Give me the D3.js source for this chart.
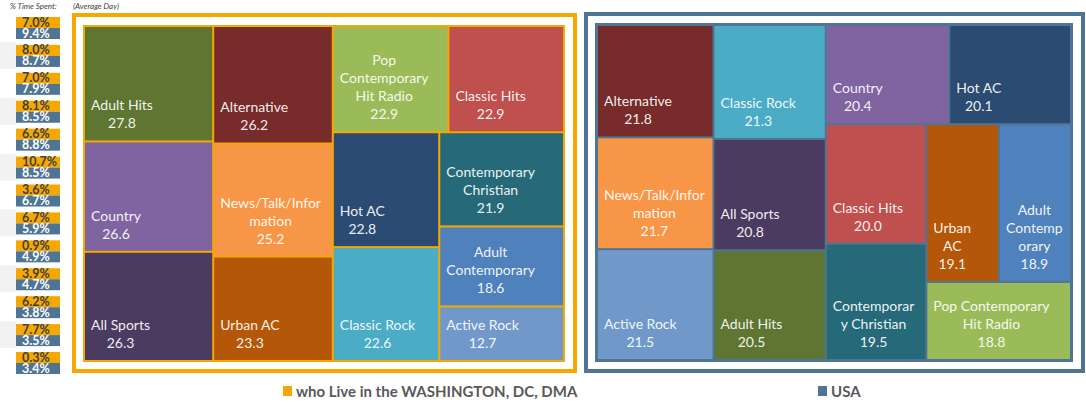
<!DOCTYPE html>
<html>
<head>
  <meta charset="utf-8">
  <title>Format time spent treemaps</title>
  <script src="https://d3js.org/d3.v7.min.js"></script>
  <style>
    body { margin: 0; background: #fff; }
  </style>
</head>
<body>
<div id="chart"></div>
<script type="text/javascript">
  // radio formats, with the same colour in both treemaps
  const formats = ['Adult Hits', 'Alternative', 'Pop Contemporary Hit Radio', 'Classic Hits',
    'Country', 'News/Talk/Information', 'Hot AC', 'Contemporary Christian', 'All Sports',
    'Urban AC', 'Classic Rock', 'Adult Contemporary', 'Active Rock'];
  const formatColors = ['#5f7532', '#772b2a', '#9bbb59', '#c0504d', '#8064a2', '#f79646',
    '#2c4b72', '#266a79', '#4b3b61', '#b55709', '#4bacc6', '#4f81bd', '#7099ca'];

  // values shown in each tile
  const dcValues  = [27.8, 26.2, 22.9, 22.9, 26.6, 25.2, 22.8, 21.9, 26.3, 23.3, 22.6, 18.6, 12.7];
  const usaValues = [20.5, 21.8, 18.8, 20.0, 20.4, 21.7, 20.1, 19.5, 20.8, 19.1, 21.3, 18.9, 21.5];

  // % time spent badges down the left side
  const dcShare  = [7.0, 8.0, 7.0, 8.1, 6.6, 10.7, 3.6, 6.7, 0.9, 3.9, 6.2, 7.7, 0.3];
  const usaShare = [9.4, 8.7, 7.9, 8.5, 8.8, 8.5, 6.7, 5.9, 4.9, 4.7, 3.8, 3.5, 3.4];

  const legendLabels = ['who Live in the WASHINGTON, DC, DMA', 'USA'];

  const orange = '#f7a800';
  const steel = '#4f7594';
  const W = 1086, H = 406;

  const svg = d3.select('#chart').append('svg')
      .attr('width', W)
      .attr('height', H)
      .style('font-family', 'Lato, sans-serif');

  // badges column
  const badgeY = d3.scaleLinear().domain([0, dcShare.length - 1]).range([17, 352]);

  svg.append('g').selectAll('rect')
     .data(dcShare.map((d, i) => i).filter(i => i % 2 === 1))
     .join('rect')
     .attr('x', 0).attr('y', i => badgeY(i) - 3)
     .attr('width', 16).attr('height', 27)
     .attr('fill', '#f2f2f2');

  const badges = svg.append('g').selectAll('g')
     .data(dcShare.map((d, i) => ({dc: d, usa: usaShare[i], i})))
     .join('g')
     .attr('transform', d => `translate(16,${badgeY(d.i)})`);

  badges.append('rect').attr('width', 44).attr('height', 11).attr('fill', orange);
  badges.append('rect').attr('y', 11).attr('width', 44).attr('height', 11).attr('fill', steel);
  badges.append('text')
     .attr('x', 6).attr('y', 9.5)
     .attr('font-size', '12.5px').attr('font-weight', 'bold')
     .attr('fill', '#3f3f3f')
     .text(d => d.dc.toFixed(1) + '%');
  badges.append('text')
     .attr('x', 6).attr('y', 20.5)
     .attr('font-size', '12.5px').attr('font-weight', 'bold')
     .attr('fill', '#fff')
     .text(d => d.usa.toFixed(1) + '%');

  svg.append('text')
     .attr('x', 10).attr('y', 9)
     .attr('font-size', '8px').attr('font-style', 'italic')
     .attr('fill', '#404040')
     .text('% Time Spent:');
  svg.append('text')
     .attr('x', 73).attr('y', 9)
     .attr('font-size', '8px').attr('font-style', 'italic')
     .attr('fill', '#404040')
     .text('(Average Day)');

  // measuring helper for wrapping labels
  const measure = svg.append('text')
     .attr('font-size', '14px')
     .attr('visibility', 'hidden');
  function textWidth(s) {
    measure.text(s);
    return measure.node().getComputedTextLength();
  }

  function wrap(name, maxW) {
    let lines = [];
    let cur = '';
    name.split(' ').forEach(word => {
      let test = cur ? cur + ' ' + word : word;
      if (textWidth(test) <= maxW) { cur = test; return; }
      if (textWidth(word) <= maxW) { lines.push(cur); cur = word; return; }
      if (cur) lines.push(cur);
      // word too long: break it by characters
      let piece = '';
      for (const ch of word) {
        if (piece && textWidth(piece + ch) > maxW) { lines.push(piece); piece = ''; }
        piece += ch;
      }
      cur = piece;
    });
    if (cur) lines.push(cur);
    return lines;
  }

  function drawTreemap(frame, inner, pad, values, color) {
    svg.append('rect')
       .attr('x', frame.x).attr('y', frame.y)
       .attr('width', frame.w).attr('height', frame.h)
       .attr('fill', 'none')
       .attr('stroke', color)
       .attr('stroke-width', 4);

    const g = svg.append('g').attr('transform', `translate(${inner.x},${inner.y})`);
    g.append('rect')
     .attr('width', inner.w).attr('height', inner.h)
     .attr('fill', color);

    const root = d3.hierarchy({children: formats.map((f, i) => ({name: f, value: values[i], color: formatColors[i]}))})
        .sum(d => d.value || 0)
        .sort((a, b) => b.value - a.value);

    d3.treemap()
      .tile(d3.treemapSquarify.ratio(1.15))
      .size([inner.w, inner.h])
      .paddingOuter(pad)
      .paddingInner(2)(root);

    const cells = g.selectAll('g.cell')
       .data(root.leaves())
       .join('g')
       .attr('class', 'cell');

    cells.append('rect')
       .attr('x', d => d.x0).attr('y', d => d.y0)
       .attr('width', d => d.x1 - d.x0)
       .attr('height', d => d.y1 - d.y0)
       .attr('fill', d => d.data.color);

    cells.each(function(d) {
      const lines = wrap(d.data.name, d.x1 - d.x0 - 12);
      lines.push(d.data.value.toFixed(1));
      const bw = d3.max(lines, l => textWidth(l));
      const cx = d.x0 + 6 + bw / 2;
      const lh = 18;
      const yLast = d.y1 - 12;
      d3.select(this).append('text')
        .attr('font-size', '14px')
        .attr('fill', '#fff')
        .attr('fill-opacity', 0.93)
        .attr('text-anchor', 'middle')
        .selectAll('tspan')
        .data(lines)
        .join('tspan')
        .attr('x', cx)
        .attr('y', (l, i) => yLast - (lines.length - 1 - i) * lh)
        .text(l => l);
    });
  }

  drawTreemap({x: 74, y: 15, w: 501, h: 356}, {x: 83, y: 25, w: 482, h: 337}, 2, dcValues, orange);
  drawTreemap({x: 586, y: 14, w: 497, h: 357}, {x: 595, y: 23, w: 478, h: 339}, 3, usaValues, steel);

  // legend
  const legend = svg.append('g').selectAll('g')
     .data(legendLabels.map((l, i) => ({label: l, color: i ? steel : orange, x: i ? 818 : 283})))
     .join('g')
     .attr('transform', d => `translate(${d.x},386)`);
  legend.append('rect').attr('width', 9).attr('height', 10).attr('fill', d => d.color);
  legend.append('text')
     .attr('x', 13).attr('y', 10.5)
     .attr('font-size', '15px').attr('font-weight', 'bold')
     .attr('fill', '#595959')
     .text(d => d.label);
</script>
</body>
</html>
